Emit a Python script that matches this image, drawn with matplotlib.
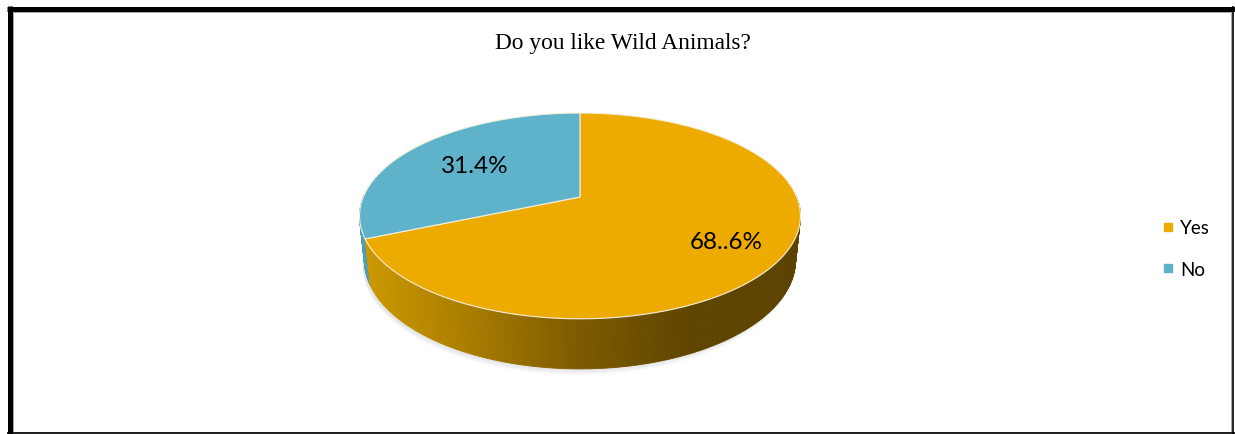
import numpy as np
from matplotlib import pyplot as plt
from matplotlib.patches import Polygon, Rectangle
from matplotlib.lines import Line2D
from matplotlib.colors import LinearSegmentedColormap

# data
labels = ['Yes', 'No']
values = [68.6, 31.4]
value_texts = ['68..6%', '31.4%']
top_colors = ['#EDAB00', '#5EB3CB']
title = 'Do you like Wild Animals?'

# layout of the 3d pie (pixels)
CX, CY, R = 580.0, 198.0, 216.7
TILT = np.radians(27.3)
DIST = 4.83
DEPTH = 0.232
label_r = [0.75, 0.62]

side_cmap = LinearSegmentedColormap.from_list(
    'side', ['#CE9A00', '#A87C00', '#7C5A00', '#604500', '#5C4300'])
blue_side = '#4F9DB4'


def project(theta, z=0.0):
    # perspective projection of a point on the unit disc
    X = np.cos(theta)
    Y = np.sin(theta)
    s = DIST / (DIST + Y * np.cos(TILT) - z * np.sin(TILT))
    x = CX + R * X * s
    y = CY - R * (Y * np.sin(TILT) + z * np.cos(TILT)) * s
    return x, y


fig = plt.figure(figsize=(12.35, 4.35), dpi=100)
ax = fig.add_axes([0, 0, 1, 1])
ax.set_xlim(0, 1235)
ax.set_ylim(435, 0)
ax.axis('off')

total = sum(values)
cum = np.concatenate([[0], np.cumsum(values)]) / total * 360
bounds = [(np.radians(90 - cum[i + 1]), np.radians(90 - cum[i])) for i in range(len(values))]

# soft shadow under the pie
full = np.linspace(0, 2 * np.pi, 200)
bx, by = project(full, -DEPTH)
for i in range(6):
    ax.add_patch(Polygon(np.column_stack([bx - 2, by + 1 + i]), closed=True,
                         facecolor='#808080', edgecolor='none', alpha=0.035))

# outer wall, drawn back to front
quads = []
for i, (t1, t2) in enumerate(bounds):
    ts = np.linspace(t1, t2, 300)
    for a, b in zip(ts[:-1], ts[1:]):
        mid = (a + b) / 2
        if np.sin(mid) > 0.02:
            continue
        x1, y1 = project(a)
        x2, y2 = project(b)
        x3, y3 = project(b, -DEPTH)
        x4, y4 = project(a, -DEPTH)
        if i == 0:
            f = (project(mid)[0] - (CX - R * 1.02)) / (2 * R * 1.02)
            c = side_cmap(np.clip(f, 0, 1))
        else:
            c = blue_side
        quads.append((np.sin(mid), [(x1, y1), (x2, y2), (x3, y3), (x4, y4)], c))
quads.sort(key=lambda q: -q[0])
for _, pts, c in quads:
    ax.add_patch(Polygon(pts, closed=True, facecolor=c, edgecolor=c, lw=0.6))

# top faces
for i, (t1, t2) in enumerate(bounds):
    ts = np.linspace(t1, t2, 300)
    xs, ys = project(ts)
    pts = np.column_stack([np.concatenate([[CX], xs]), np.concatenate([[CY], ys])])
    ax.add_patch(Polygon(pts, closed=True, facecolor=top_colors[i],
                         edgecolor='#F4EEDD', lw=0.8))

# value labels
for i, (t1, t2) in enumerate(bounds):
    mid = (t1 + t2) / 2
    X = label_r[i] * np.cos(mid)
    Y = label_r[i] * np.sin(mid)
    s = DIST / (DIST + Y * np.cos(TILT))
    ax.text(CX + R * X * s, CY - R * Y * np.sin(TILT) * s, value_texts[i],
            ha='center', va='center', fontsize=17.5, family='Lato', color='black')

ax.text(623, 43, title, ha='center', va='center', fontsize=16.8,
        family='Liberation Serif', color='black')

handles = [Line2D([], [], marker='s', ls='', color=c, markersize=6) for c in top_colors]
ax.legend(handles, labels, loc='center left', bbox_to_anchor=(1161 / 1235, 1 - 249.5 / 435),
          frameon=False, prop={'family': 'Lato', 'size': 13.5}, handletextpad=0.3,
          handlelength=0.7, labelspacing=1.3, borderpad=0, borderaxespad=0)

# frame
ax.add_patch(Rectangle((13, 13), 1218, 420, fill=False, edgecolor='#A6A6A6', lw=0.7))
ax.plot([7, 1235], [9.5, 9.5], color='black', lw=3.6, solid_capstyle='butt', clip_on=False)
ax.plot([9.5, 9.5], [7, 435], color='black', lw=3.6, solid_capstyle='butt', clip_on=False)
ax.plot([1233, 1233], [7, 435], color='black', lw=1.2, solid_capstyle='butt', clip_on=False)
ax.plot([7, 1235], [434, 434], color='black', lw=1.2, solid_capstyle='butt', clip_on=False)

fig.savefig('out.png', dpi=100)
